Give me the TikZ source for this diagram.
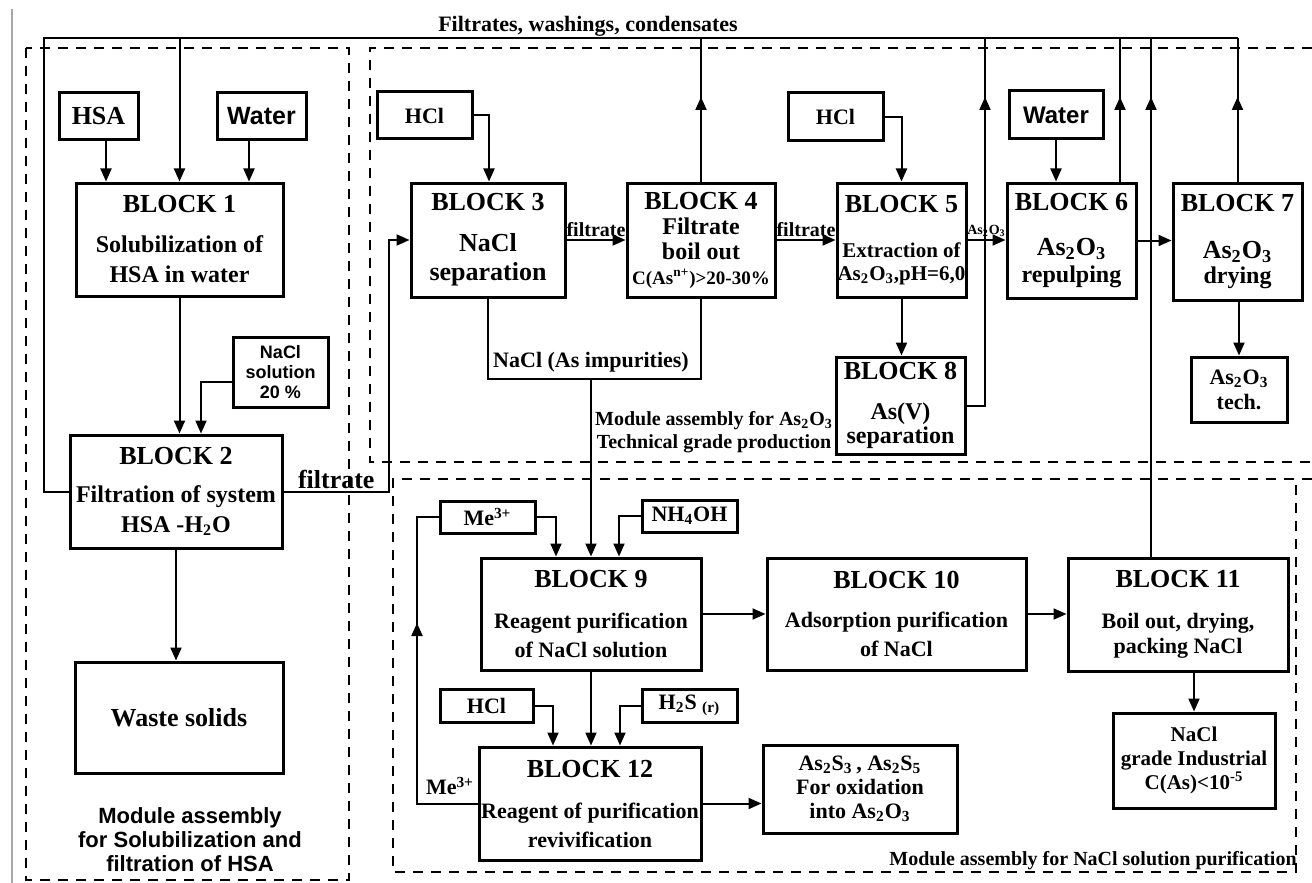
\documentclass[tikz,border=0pt]{standalone}
\usepackage{fontspec}
\setmainfont{Liberation Serif}
\newfontfamily\arialfont{Liberation Sans}
\usetikzlibrary{arrows.meta}
\newcommand\subs[1]{\textsubscript{#1}}
\newcommand\sups[1]{\textsuperscript{#1}}
\newcommand\fs[2]{\fontsize{#1}{#2}\selectfont}
\newcommand\hd[1]{{\fs{13}{15}#1}}
\begin{document}
\begin{tikzpicture}[x=0.5pt, y=-0.5pt, line width=1pt,
    >={Triangle[length=6.5pt,width=5.5pt]},
    blk/.style={draw, line width=1.5pt, inner sep=0pt, align=center, font=\bfseries\fs{12}{15}},
    sz/.style 2 args={minimum width=#1pt, minimum height=#2pt},
    mod/.style={dash pattern=on 5pt off 4pt, line width=1pt},
    lbl/.style={font=\bfseries\fs{10}{12}, inner sep=1pt, align=center}]
\useasboundingbox (0,0) rectangle (1312,883);
\draw[gray!70, line width=0.6pt] (12,9) -- (12,883);
% modules
\draw[mod] (26,48) rectangle (349,880);
\draw[mod] (1312,48) -- (370,48) -- (370,462) -- (1312,462);
\draw[mod] (1312,479) -- (393,479) -- (393,872) -- (1296,872) -- (1296,479);
\node[font=\arialfont\bfseries\fs{11}{12}, align=center] (m1lbl) at (190,840) {Module assembly\\ for Solubilization and\\ filtration of HSA};
\node[lbl, font=\bfseries\fs{10}{11.5}] (m2lbl) at (714,432) {Module assembly for As\subs{2}O\subs{3}\\ Technical grade production};
\node[lbl] (m3lbl) at (1093,861) {Module assembly for NaCl solution purification};
\node[lbl, font=\bfseries\fs{11}{13}] (rec) at (588,26) {Filtrates, washings, condensates};
% solubilization and filtration
\node[blk, sz={39.5}{23.5}, font=\bfseries\fs{13}{15}] (hsa) at (98.5,116.5) {HSA};
\node[blk, sz={44.5}{23.5}, font=\arialfont\bfseries\fs{12.5}{15}] (wat1) at (261.5,116.5) {Water};
\node[blk, sz={103.5}{56.5}] (b1) at (179.5,239.5) {\hd{BLOCK 1}\\[5pt] Solubilization of\\ HSA in water};
\node[blk, sz={47.5}{35}, font=\arialfont\bfseries\fs{9}{10}] (nacl20) at (280.5,372) {NaCl\\ solution\\ 20 \%};
\node[blk, sz={106}{56.5}] (b2) at (176,491.5) {\hd{BLOCK 2}\\[4pt] Filtration of system\\ HSA -H\subs{2}O};
\node[blk, sz={104}{55.5}, font=\bfseries\fs{13}{15}] (waste) at (179,717.5) {Waste solids};
% As2O3 technical grade
\node[blk, sz={47.5}{23.5}, font=\bfseries\fs{11}{13}] (hcl1) at (424.5,115.5) {HCl};
\node[blk, sz={77}{57}, font=\bfseries\fs{13}{14.5}] (b3) at (488,240) {BLOCK 3\\[6pt] NaCl\\ separation};
\node[blk, sz={74}{57}, font=\bfseries\fs{12}{12.5}] (b4) at (701,240) {\hd{BLOCK 4}\\ Filtrate\\ boil out\\ {\fs{9.5}{12.5}C(As\sups{n+})>20-30\%}};
\node[blk, sz={47.5}{24}, font=\bfseries\fs{11}{13}] (hcl2) at (835.5,117) {HCl};
\node[blk, sz={64.5}{57}, font=\bfseries\fs{10.5}{11.5}] (b5) at (901.5,240) {\hd{BLOCK 5}\\[11pt] Extraction of\\ As\subs{2}O\subs{3},pH=6,0};
\node[blk, sz={64.5}{48.5}, font=\bfseries\fs{12}{12}] (b8) at (900.5,405.5) {\hd{BLOCK 8}\\[8pt] As(V)\\ separation};
\node[blk, sz={47}{24}, font=\arialfont\bfseries\fs{12}{14}] (wat2) at (1056,115) {Water};
\node[blk, sz={64.5}{57.5}, font=\bfseries\fs{12}{13.5}] (b6) at (1071.5,240.5) {\hd{BLOCK 6}\\[9pt] {\fs{13}{14}As\subs{2}O\subs{3}}\\ repulping};
\node[blk, sz={64.5}{58.5}, font=\bfseries\fs{12}{12.5}] (b7) at (1237.5,241.5) {\hd{BLOCK 7}\\[11pt] {\fs{13}{14}As\subs{2}O\subs{3}}\\ drying};
\node[blk, sz={48}{32.5}, font=\bfseries\fs{11}{12.5}] (tech) at (1239,389.5) {As\subs{2}O\subs{3}\\ tech.};
% NaCl purification
\node[blk, sz={47.5}{16}, font=\bfseries\fs{11}{13}] (me1) at (487.5,517) {Me\sups{3+}};
\node[blk, sz={47.5}{16}, font=\bfseries\fs{11}{13}] (nh4) at (689.5,516) {NH\subs{4}OH};
\node[blk, sz={110}{56}, font=\bfseries\fs{11}{14.5}] (b9) at (591,614) {\hd{BLOCK 9}\\[6pt] Reagent purification\\ of NaCl solution};
\node[blk, sz={129.5}{56}, font=\bfseries\fs{11}{14.5}] (b10) at (896.5,614) {\hd{BLOCK 10}\\[5pt] Adsorption purification\\ of NaCl};
\node[blk, sz={110}{56.5}, font=\bfseries\fs{11}{12.5}] (b11) at (1178,614.5) {\hd{BLOCK 11}\\[8pt] Boil out, drying,\\ packing NaCl};
\node[blk, sz={81}{47.5}, font=\bfseries\fs{10.5}{12}] (naclind) at (1194,760.5) {NaCl\\ grade Industrial\\ C(As)<10\sups{-5}};
\node[blk, sz={46.5}{16.5}, font=\bfseries\fs{11}{13}] (hcl3) at (486.5,705.5) {HCl};
\node[blk, sz={47.5}{16.5}, font=\bfseries\fs{11}{13}] (h2s) at (689.5,705.5) {H\subs{2}S \subs{(r)}};
\node[blk, sz={111}{56.5}, font=\bfseries\fs{11}{14.5}] (b12) at (590,803.5) {\hd{BLOCK 12}\\[6pt] Reagent of purification\\ revivification};
\node[blk, sz={97}{44}, font=\bfseries\fs{11}{12}] (as2s) at (860,789) {As\subs{2}S\subs{3}\,, As\subs{2}S\subs{5}\\ For oxidation\\ into As\subs{2}O\subs{3}};
\node[lbl, font=\bfseries\fs{11}{13}] (meL) at (450,786) {Me\sups{3+}};
% helper coordinates
\coordinate (topL) at (44,38);
\coordinate (tip) at (0,97);
\coordinate (xh) at (106,0);
\coordinate (xw) at (249,0);
\coordinate (x2) at (201,0);
\coordinate (fx) at (389,0);
\coordinate (x3) at (489,0);
\coordinate (r8) at (985,0);
\coordinate (r6) at (1120,0);
\coordinate (r11) at (1151,0);
\coordinate (imp) at (591,379);
\coordinate (x9a) at (556,0);
\coordinate (x9b) at (619,0);
\coordinate (x12a) at (553,0);
\coordinate (x12b) at (620,0);
\coordinate (lp) at (417,0);
\coordinate (lpt) at (417,623);
% return line
\draw (b2.west) -| (topL) -- (b7.north |- topL);
\draw[->] (b1.north |- topL) -- (b1.north);
\draw (b4.north) -- (b4.north |- topL);
\draw[->] (b4.north) -- (b4.north |- tip);
\draw (b8.east) -| (r8 |- topL);
\draw[->] (b8.east) -| (r8 |- tip);
\draw (r6 |- b6.north) -- (r6 |- topL);
\draw[->] (r6 |- b6.north) -- (r6 |- tip);
\draw (r11 |- b11.north) -- (r11 |- topL);
\draw[->] (r11 |- b11.north) -- (r11 |- tip);
\draw (b7.north) -- (b7.north |- topL);
\draw[->] (b7.north) -- (b7.north |- tip);
% left flows
\draw[->] (xh |- hsa.south) -- (xh |- b1.north);
\draw[->] (xw |- wat1.south) -- (xw |- b1.north);
\draw[->] (b1.south) -- (b1.south |- b2.north);
\draw[->] ([yshift=-5pt]nacl20.west) -| (x2 |- b2.north);
\draw[->] (b2.south) -- (b2.south |- waste.north);
\draw[->] (b2.east) -| node[pos=0.25, lbl, above, font=\bfseries\fs{13}{15}] {filtrate} (fx |- b3.west) -- (b3.west);
% As2O3 flows
\draw[->] (hcl1.east) -| (x3 |- b3.north);
\draw[->] (b3.east) -- node[lbl, above] {filtrate} (b3.east -| b4.west);
\draw[->] (b4.east) -- node[lbl, above] {filtrate} (b4.east -| b5.west);
\draw[->] (hcl2.east) -| (b5.north);
\draw[->] (b5.south) -- (b5.south |- b8.north);
\draw[->] (b5.east) -- node[lbl, above, font=\bfseries\fs{7}{8}] {As\subs{2}O\subs{3}} (b5.east -| b6.west);
\draw[->] (wat2.south) -- (wat2.south |- b6.north);
\draw[->] (b6.east) -- (b6.east -| b7.west);
\draw[->] (tech.north |- b7.south) -- (tech.north);
% NaCl flows
\draw (b3.south) |- (imp) -| (b4.south);
\draw[->] (imp) -- node[pos=0, lbl, above, font=\bfseries\fs{11}{13}, inner sep=3pt] {NaCl (As impurities)} (imp |- b9.north);
\draw[->] (me1.east) -| (x9a |- b9.north);
\draw[->] (nh4.west) -| (x9b |- b9.north);
\draw[->] (b9.east) -- (b9.east -| b10.west);
\draw[->] (b10.east) -- (b10.east -| b11.west);
\draw[->] (naclind.north |- b11.south) -- (naclind.north);
\draw[->] (b9.south) -- (b9.south |- b12.north);
\draw[->] (hcl3.east) -| (x12a |- b12.north);
\draw[->] (h2s.west) -| (x12b |- b12.north);
\draw[->] (b12.east) -- (b12.east -| as2s.west);
\draw (b12.west) -| (lp |- me1.west) -- (me1.west);
\draw[->] (b12.west) -| (lpt);
\end{tikzpicture}
\end{document}
